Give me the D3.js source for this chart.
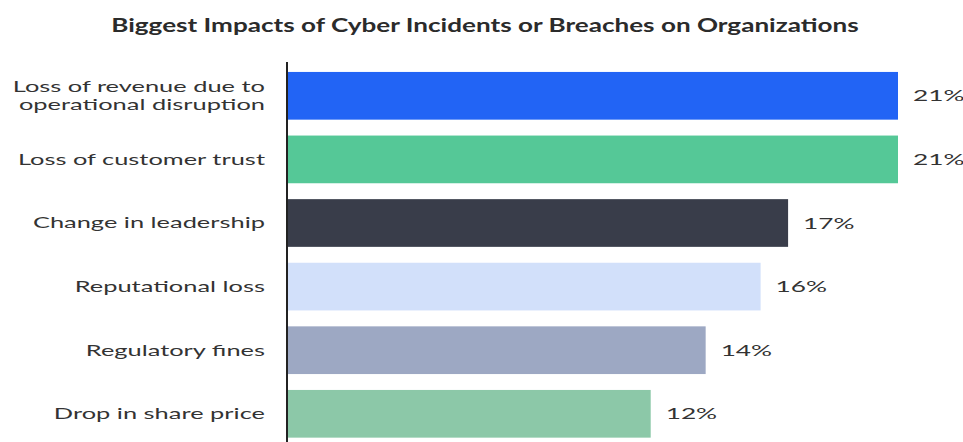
<!DOCTYPE html>
<html>
<head>
<meta charset="utf-8">
<script src="https://cdn.jsdelivr.net/npm/d3@7"></script>
<style>
  html, body { margin: 0; padding: 0; background: #ffffff; }
  svg { display: block; }
</style>
</head>
<body>
<svg id="chart" width="963" height="442"></svg>
<script>
// Impact categories, top to bottom (each entry is one label line list)
const categories = [
  ["Loss of revenue due to", "operational disruption"],
  ["Loss of customer trust"],
  ["Change in leadership"],
  ["Reputational loss"],
  ["Regulatory fines"],
  ["Drop in share price"]
];
// Share of respondents (%)
const values = [21, 21, 17, 16, 14, 12];
const barColors = ["#2264F5", "#55C897", "#393D4A", "#D2E0FA", "#9DA8C3", "#8CC8A8"];
const title = "Biggest Impacts of Cyber Incidents or Breaches on Organizations";

const svg = d3.select("#chart");
const left = 288, right = 898;
const bodyFont = 15.5, bodyStretch = 1.64;
const titleFont = 18.5, titleStretch = 1.41;

const keys = categories.map(c => c.join(" "));

const x = d3.scaleLinear().domain([-1.2, 21]).range([left, right]);
const y = d3.scaleBand().domain(keys).range([64, 445.6])
  .paddingInner(0.25).paddingOuter(0.125);

// Wide lettering: every text is drawn at its anchor and widened horizontally
function placed(sel, px, py, sx) {
  return sel.attr("transform", `translate(${px},${py}) scale(${sx},1)`);
}

placed(svg.append("text"), 485, 32, titleStretch)
  .attr("text-anchor", "middle")
  .attr("font-family", "Lato, sans-serif")
  .attr("font-weight", 700)
  .attr("font-size", titleFont)
  .attr("fill", "#2b2b2b")
  .text(title);

svg.append("g").selectAll("rect").data(values).join("rect")
  .attr("x", x(x.domain()[0]))
  .attr("y", (d, i) => y(keys[i]))
  .attr("width", d => x(d) - x(x.domain()[0]))
  .attr("height", y.bandwidth())
  .attr("fill", (d, i) => barColors[i]);

const valueLabels = svg.append("g");
values.forEach((d, i) => {
  placed(valueLabels.append("text"), x(d) + 15, y(keys[i]) + y.bandwidth() / 2, bodyStretch)
    .attr("dy", "0.35em")
    .attr("font-family", "Lato, sans-serif")
    .attr("font-size", bodyFont + 0.5)
    .attr("fill", "#333")
    .text(d + "%");
});

const labels = svg.append("g");
categories.forEach((lines, i) => {
  const cy = y(keys[i]) + y.bandwidth() / 2;
  const lh = 17.5;
  lines.forEach((ln, j) => {
    placed(labels.append("text"), 265, cy + (j - (lines.length - 1) / 2) * lh, bodyStretch)
      .attr("dy", "0.35em")
      .attr("text-anchor", "end")
      .attr("font-family", "Lato, sans-serif")
      .attr("font-size", bodyFont)
      .attr("fill", "#333")
      .text(ln);
  });
});

// Category axis line
const axis = d3.axisLeft(y).tickSize(0).tickFormat("");
svg.append("g").attr("transform", `translate(${left - 1},0)`)
  .call(axis)
  .call(g => g.select(".domain").attr("d", "M0,62V442").attr("stroke", "#222").attr("stroke-width", 2));
</script>
</body>
</html>
